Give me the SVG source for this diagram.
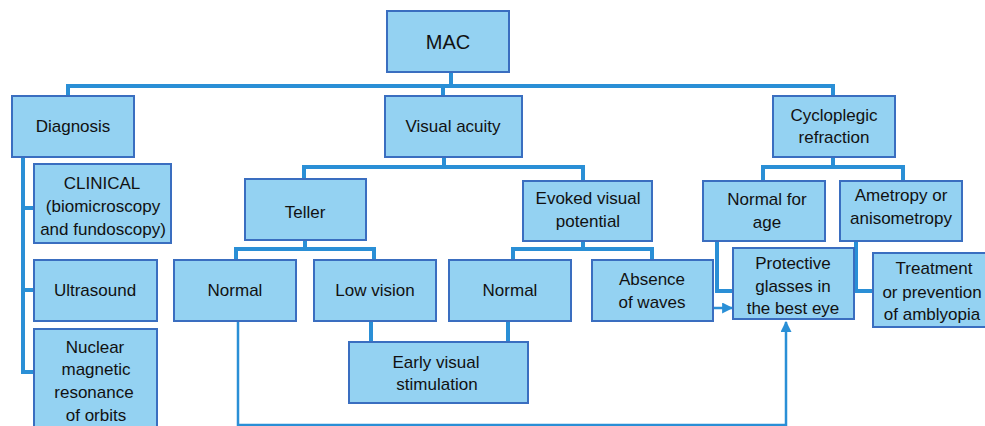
<svg xmlns="http://www.w3.org/2000/svg" width="985" height="426" viewBox="0 0 985 426">
<defs>
<style>
.box{fill:#94D2F2;stroke:#3A6EC0;stroke-width:2}
.t{font-family:"Liberation Sans",Arial,sans-serif;font-size:17px;fill:#111;text-anchor:middle}
.c{fill:none;stroke:#2A8FD6;stroke-width:4;stroke-linejoin:miter}
.thin{fill:none;stroke:#2A8FD6;stroke-width:2.5}
</style>
<marker id="ah" viewBox="0 0 10 10" refX="9" refY="5" markerWidth="11" markerHeight="11" orient="auto" markerUnits="userSpaceOnUse">
<path d="M0,0 L10,5 L0,10 z" fill="#2A8FD6"/>
</marker>
</defs>
<rect width="985" height="426" fill="#fff"/>
<g id="connectors">
<path class="c" d="M451,72 V86 M68,98 V86 H833 V96 M443,86 V96"/>
<path class="c" d="M23,157 V372 H34 M23,208 H34 M23,290 H34"/>
<path class="c" d="M444,157 V167 M304,179 V167 H583 V181"/>
<path class="c" d="M305,240 V249 M236,260 V249 H374 V260"/>
<path class="c" d="M583,241 V249 M513,260 V249 H652 V260"/>
<path class="c" d="M371,321 V342 M508,321 V342"/>
<path class="c" d="M833,157 V167 M763,181 V167 H903 V181"/>
<path class="c" d="M717,241 V291 H733 M856,241 V291 H873"/>
<path class="thin" d="M238,321 V425 H786 V322" marker-end="url(#ah)"/>
<path class="thin" d="M713,308 H732" marker-end="url(#ah)"/>
</g>
<g id="mac"><rect class="box" x="387" y="11" width="122" height="61"/><text class="t" x="448" y="49" style="font-size:20px">MAC</text></g>
<g id="diagnosis"><rect class="box" x="12" y="96" width="122" height="61"/><text class="t" x="73" y="132">Diagnosis</text></g>
<g id="visual-acuity"><rect class="box" x="385" y="96" width="137" height="61"/><text class="t" x="453" y="132">Visual acuity</text></g>
<g id="cycloplegic"><rect class="box" x="773" y="96" width="122" height="61"/><text class="t" x="834" y="121">Cycloplegic</text><text class="t" x="834" y="143">refraction</text></g>
<g id="clinical"><rect class="box" x="34" y="164" width="137" height="79"/><text class="t" x="102" y="189">CLINICAL</text><text class="t" x="103" y="212">(biomicroscopy</text><text class="t" x="103" y="235">and fundoscopy)</text></g>
<g id="ultrasound"><rect class="box" x="34" y="260" width="123" height="61"/><text class="t" x="95" y="296">Ultrasound</text></g>
<g id="nmr"><rect class="box" x="34" y="329" width="123" height="110"/><text class="t" x="95" y="353">Nuclear</text><text class="t" x="96" y="375">magnetic</text><text class="t" x="94" y="398">resonance</text><text class="t" x="96" y="421">of orbits</text></g>
<g id="teller"><rect class="box" x="245" y="179" width="121" height="61"/><text class="t" x="305" y="218">Teller</text></g>
<g id="evoked"><rect class="box" x="523" y="181" width="129" height="60"/><text class="t" x="588" y="204">Evoked visual</text><text class="t" x="588" y="227">potential</text></g>
<g id="normal-for-age"><rect class="box" x="703" y="181" width="122" height="60"/><text class="t" x="767" y="205">Normal for</text><text class="t" x="767" y="228">age</text></g>
<g id="ametropy"><rect class="box" x="840" y="181" width="122" height="60"/><text class="t" x="901" y="201">Ametropy or</text><text class="t" x="901" y="224">anisometropy</text></g>
<g id="normal-teller"><rect class="box" x="174" y="260" width="122" height="61"/><text class="t" x="235" y="296">Normal</text></g>
<g id="low-vision"><rect class="box" x="314" y="260" width="122" height="61"/><text class="t" x="375" y="296">Low vision</text></g>
<g id="normal-evoked"><rect class="box" x="449" y="260" width="122" height="61"/><text class="t" x="510" y="296">Normal</text></g>
<g id="absence"><rect class="box" x="592" y="260" width="121" height="61"/><text class="t" x="652" y="285">Absence</text><text class="t" x="652" y="308">of waves</text></g>
<g id="protective"><rect class="box" x="733" y="248" width="121" height="71"/><text class="t" x="793" y="269">Protective</text><text class="t" x="793" y="292">glasses in</text><text class="t" x="793" y="314">the best eye</text></g>
<g id="treatment"><rect class="box" x="873" y="253" width="124" height="74"/><text class="t" x="934" y="274">Treatment</text><text class="t" x="932" y="298">or prevention</text><text class="t" x="932" y="320">of amblyopia</text></g>
<g id="early"><rect class="box" x="349" y="342" width="179" height="61"/><text class="t" x="436" y="368">Early visual</text><text class="t" x="437" y="390">stimulation</text></g>
</svg>
